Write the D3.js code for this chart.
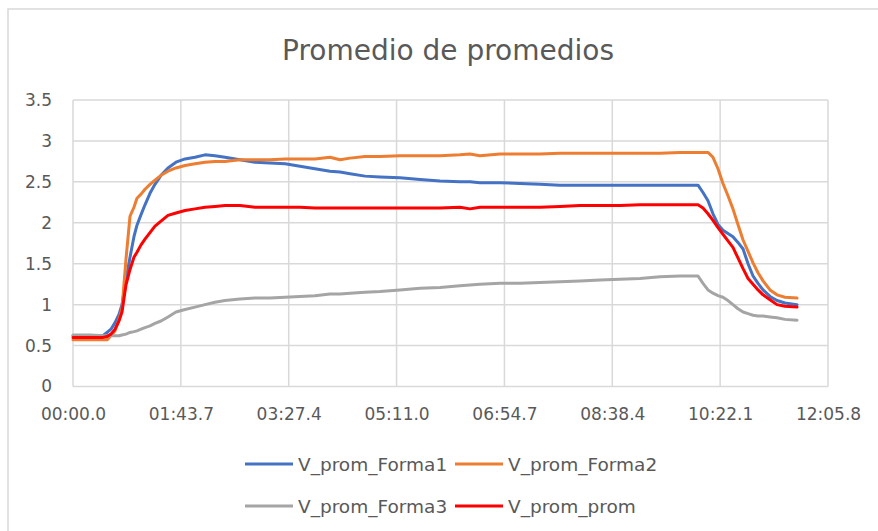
<!DOCTYPE html>
<html>
<head>
<meta charset="utf-8">
<script src="https://cdn.jsdelivr.net/npm/d3@7"></script>
<style>
  body { margin: 0; background: #fff; }
  text { font-family: "DejaVu Sans", sans-serif; fill: #595959; }
</style>
</head>
<body>
<svg id="chart" width="878" height="531"></svg>
<script>
// sample times in seconds (elapsed)
const times = [0, 16.3, 28.8, 32.7, 36.5, 40.4, 44.2, 47.1, 50.9, 54.8,
  58.6, 61.5, 65.4, 69.2, 74.0, 78.8, 84.6, 91.3, 99.0, 107.7,
  117.3, 126.9, 136.5, 146.1, 160.5, 175.0, 189.4, 203.8, 218.2, 232.6,
  247.0, 256.7, 266.3, 280.7, 295.1, 314.3, 333.6, 352.8, 372.0, 381.6,
  391.2, 410.5, 429.7, 448.9, 468.1, 487.4, 506.6, 525.8, 545.0, 564.3,
  583.5, 600.8, 605.6, 610.4, 615.2, 620.0, 624.8, 629.6, 634.4, 639.2,
  644.1, 648.9, 653.7, 658.5, 663.3, 670.0, 676.7, 684.4, 696.0];

const v_forma1 = [0.62, 0.62, 0.62, 0.66, 0.70, 0.78, 0.88, 1.00, 1.30, 1.58,
  1.83, 1.97, 2.10, 2.22, 2.36, 2.47, 2.58, 2.67, 2.74, 2.78,
  2.80, 2.83, 2.82, 2.80, 2.77, 2.74, 2.73, 2.72, 2.69, 2.66,
  2.63, 2.62, 2.60, 2.57, 2.56, 2.55, 2.53, 2.51, 2.50, 2.50,
  2.49, 2.49, 2.48, 2.47, 2.46, 2.46, 2.46, 2.46, 2.46, 2.46,
  2.46, 2.46, 2.37, 2.27, 2.11, 1.98, 1.91, 1.87, 1.83, 1.76,
  1.68, 1.50, 1.35, 1.26, 1.18, 1.10, 1.05, 1.02, 1.00];

const v_forma2 = [0.57, 0.57, 0.57, 0.57, 0.62, 0.68, 0.82, 0.95, 1.55, 2.08,
  2.19, 2.30, 2.35, 2.41, 2.47, 2.52, 2.58, 2.63, 2.67, 2.70,
  2.72, 2.74, 2.75, 2.75, 2.77, 2.77, 2.77, 2.78, 2.78, 2.78,
  2.80, 2.77, 2.79, 2.81, 2.81, 2.82, 2.82, 2.82, 2.83, 2.84,
  2.82, 2.84, 2.84, 2.84, 2.85, 2.85, 2.85, 2.85, 2.85, 2.85,
  2.86, 2.86, 2.86, 2.86, 2.80, 2.66, 2.48, 2.33, 2.17, 1.98,
  1.79, 1.65, 1.51, 1.39, 1.29, 1.18, 1.12, 1.09, 1.08];

const v_forma3 = [0.63, 0.63, 0.62, 0.62, 0.62, 0.62, 0.62, 0.63, 0.64, 0.66,
  0.67, 0.68, 0.70, 0.72, 0.74, 0.77, 0.80, 0.85, 0.91, 0.94,
  0.97, 1.00, 1.03, 1.05, 1.07, 1.08, 1.08, 1.09, 1.10, 1.11,
  1.13, 1.13, 1.14, 1.15, 1.16, 1.18, 1.20, 1.21, 1.23, 1.24,
  1.25, 1.26, 1.26, 1.27, 1.28, 1.29, 1.30, 1.31, 1.32, 1.34,
  1.35, 1.35, 1.26, 1.18, 1.14, 1.11, 1.09, 1.05, 1.00, 0.95,
  0.91, 0.89, 0.87, 0.86, 0.86, 0.85, 0.84, 0.82, 0.81];

const v_prom = [0.60, 0.60, 0.60, 0.61, 0.64, 0.70, 0.80, 0.91, 1.24, 1.43,
  1.58, 1.64, 1.73, 1.80, 1.88, 1.96, 2.02, 2.09, 2.12, 2.15,
  2.17, 2.19, 2.20, 2.21, 2.21, 2.19, 2.19, 2.19, 2.19, 2.18,
  2.18, 2.18, 2.18, 2.18, 2.18, 2.18, 2.18, 2.18, 2.19, 2.17,
  2.19, 2.19, 2.19, 2.19, 2.20, 2.21, 2.21, 2.21, 2.22, 2.22,
  2.22, 2.22, 2.18, 2.11, 2.03, 1.94, 1.86, 1.78, 1.70, 1.57,
  1.44, 1.32, 1.25, 1.18, 1.12, 1.06, 1.00, 0.98, 0.97];

const series_names = ['V_prom_Forma1', 'V_prom_Forma2', 'V_prom_Forma3', 'V_prom_prom'];
const series_colors = ['#4472C4', '#ED7D31', '#A5A5A5', '#FF0000'];
const series_values = [v_forma1, v_forma2, v_forma3, v_prom];

// axis ticks: 7 steps of 103.68 s up to 12:05.8
const x_ticks = d3.range(0, 8).map(i => i * 103.68);
const y_ticks = [0, 0.5, 1, 1.5, 2, 2.5, 3, 3.5];

const svg = d3.select('#chart');
const margin = { left: 73, right: 828, top: 100, bottom: 386.5 };

const x = d3.scaleLinear().domain([0, 725.76]).range([margin.left, margin.right]);
const y = d3.scaleLinear().domain([0, 3.5]).range([margin.bottom, margin.top]);

function fmt_time(s) {
  const mm = Math.floor(s / 60);
  const ss = s - mm * 60;
  return String(mm).padStart(2, '0') + ':' + ss.toFixed(1).padStart(4, '0');
}

// chart frame
svg.append('rect')
  .attr('x', 8).attr('y', 9)
  .attr('width', 900).attr('height', 560)
  .attr('fill', '#fff')
  .attr('stroke', '#d9d9d9')
  .attr('stroke-width', 1.5);

// title
svg.append('text')
  .attr('x', 448).attr('y', 60)
  .attr('text-anchor', 'middle')
  .style('font-size', '28px')
  .text('Promedio de promedios');

// gridlines
svg.append('g').attr('class', 'hgrid')
  .selectAll('line').data(y_ticks).join('line')
  .attr('x1', margin.left).attr('x2', margin.right)
  .attr('y1', d => y(d)).attr('y2', d => y(d))
  .attr('stroke', '#d9d9d9').attr('stroke-width', 1.5);

svg.append('g').attr('class', 'vgrid')
  .selectAll('line').data(x_ticks).join('line')
  .attr('x1', d => x(d)).attr('x2', d => x(d))
  .attr('y1', margin.top).attr('y2', margin.bottom)
  .attr('stroke', '#d9d9d9').attr('stroke-width', 1.5);

// axes (labels only)
const y_axis = svg.append('g')
  .attr('transform', 'translate(' + margin.left + ',0)')
  .call(d3.axisLeft(y).tickValues(y_ticks).tickSize(0).tickPadding(21).tickFormat(d3.format('')));
const x_axis = svg.append('g')
  .attr('transform', 'translate(0,' + margin.bottom + ')')
  .call(d3.axisBottom(x).tickValues(x_ticks).tickSize(0).tickPadding(21).tickFormat(fmt_time));
[y_axis, x_axis].forEach(a => {
  a.select('.domain').remove();
  a.selectAll('text')
    .attr('fill', '#595959')
    .style('font-size', '17px')
    .style('font-family', '"DejaVu Sans", sans-serif');
});

// series lines
const line = d3.line()
  .x((d, i) => x(times[i]))
  .y(d => y(d));

svg.append('g').attr('class', 'series')
  .selectAll('path').data(series_values).join('path')
  .attr('d', d => line(d))
  .attr('fill', 'none')
  .attr('stroke', (d, i) => series_colors[i])
  .attr('stroke-width', 3)
  .attr('stroke-linejoin', 'round')
  .attr('stroke-linecap', 'round');

// legend, two rows of two
const legend_pos = [[245, 464], [455, 464], [245, 506], [455, 506]];
const legend = svg.append('g').attr('class', 'legend')
  .selectAll('g').data(series_names).join('g')
  .attr('transform', (d, i) => 'translate(' + legend_pos[i][0] + ',' + legend_pos[i][1] + ')');
legend.append('line')
  .attr('x1', 0).attr('x2', 48)
  .attr('stroke', (d, i) => series_colors[i])
  .attr('stroke-width', 3);
legend.append('text')
  .attr('x', 53).attr('dy', '0.36em')
  .style('font-size', '18.5px')
  .text(d => d);
</script>
</body>
</html>
